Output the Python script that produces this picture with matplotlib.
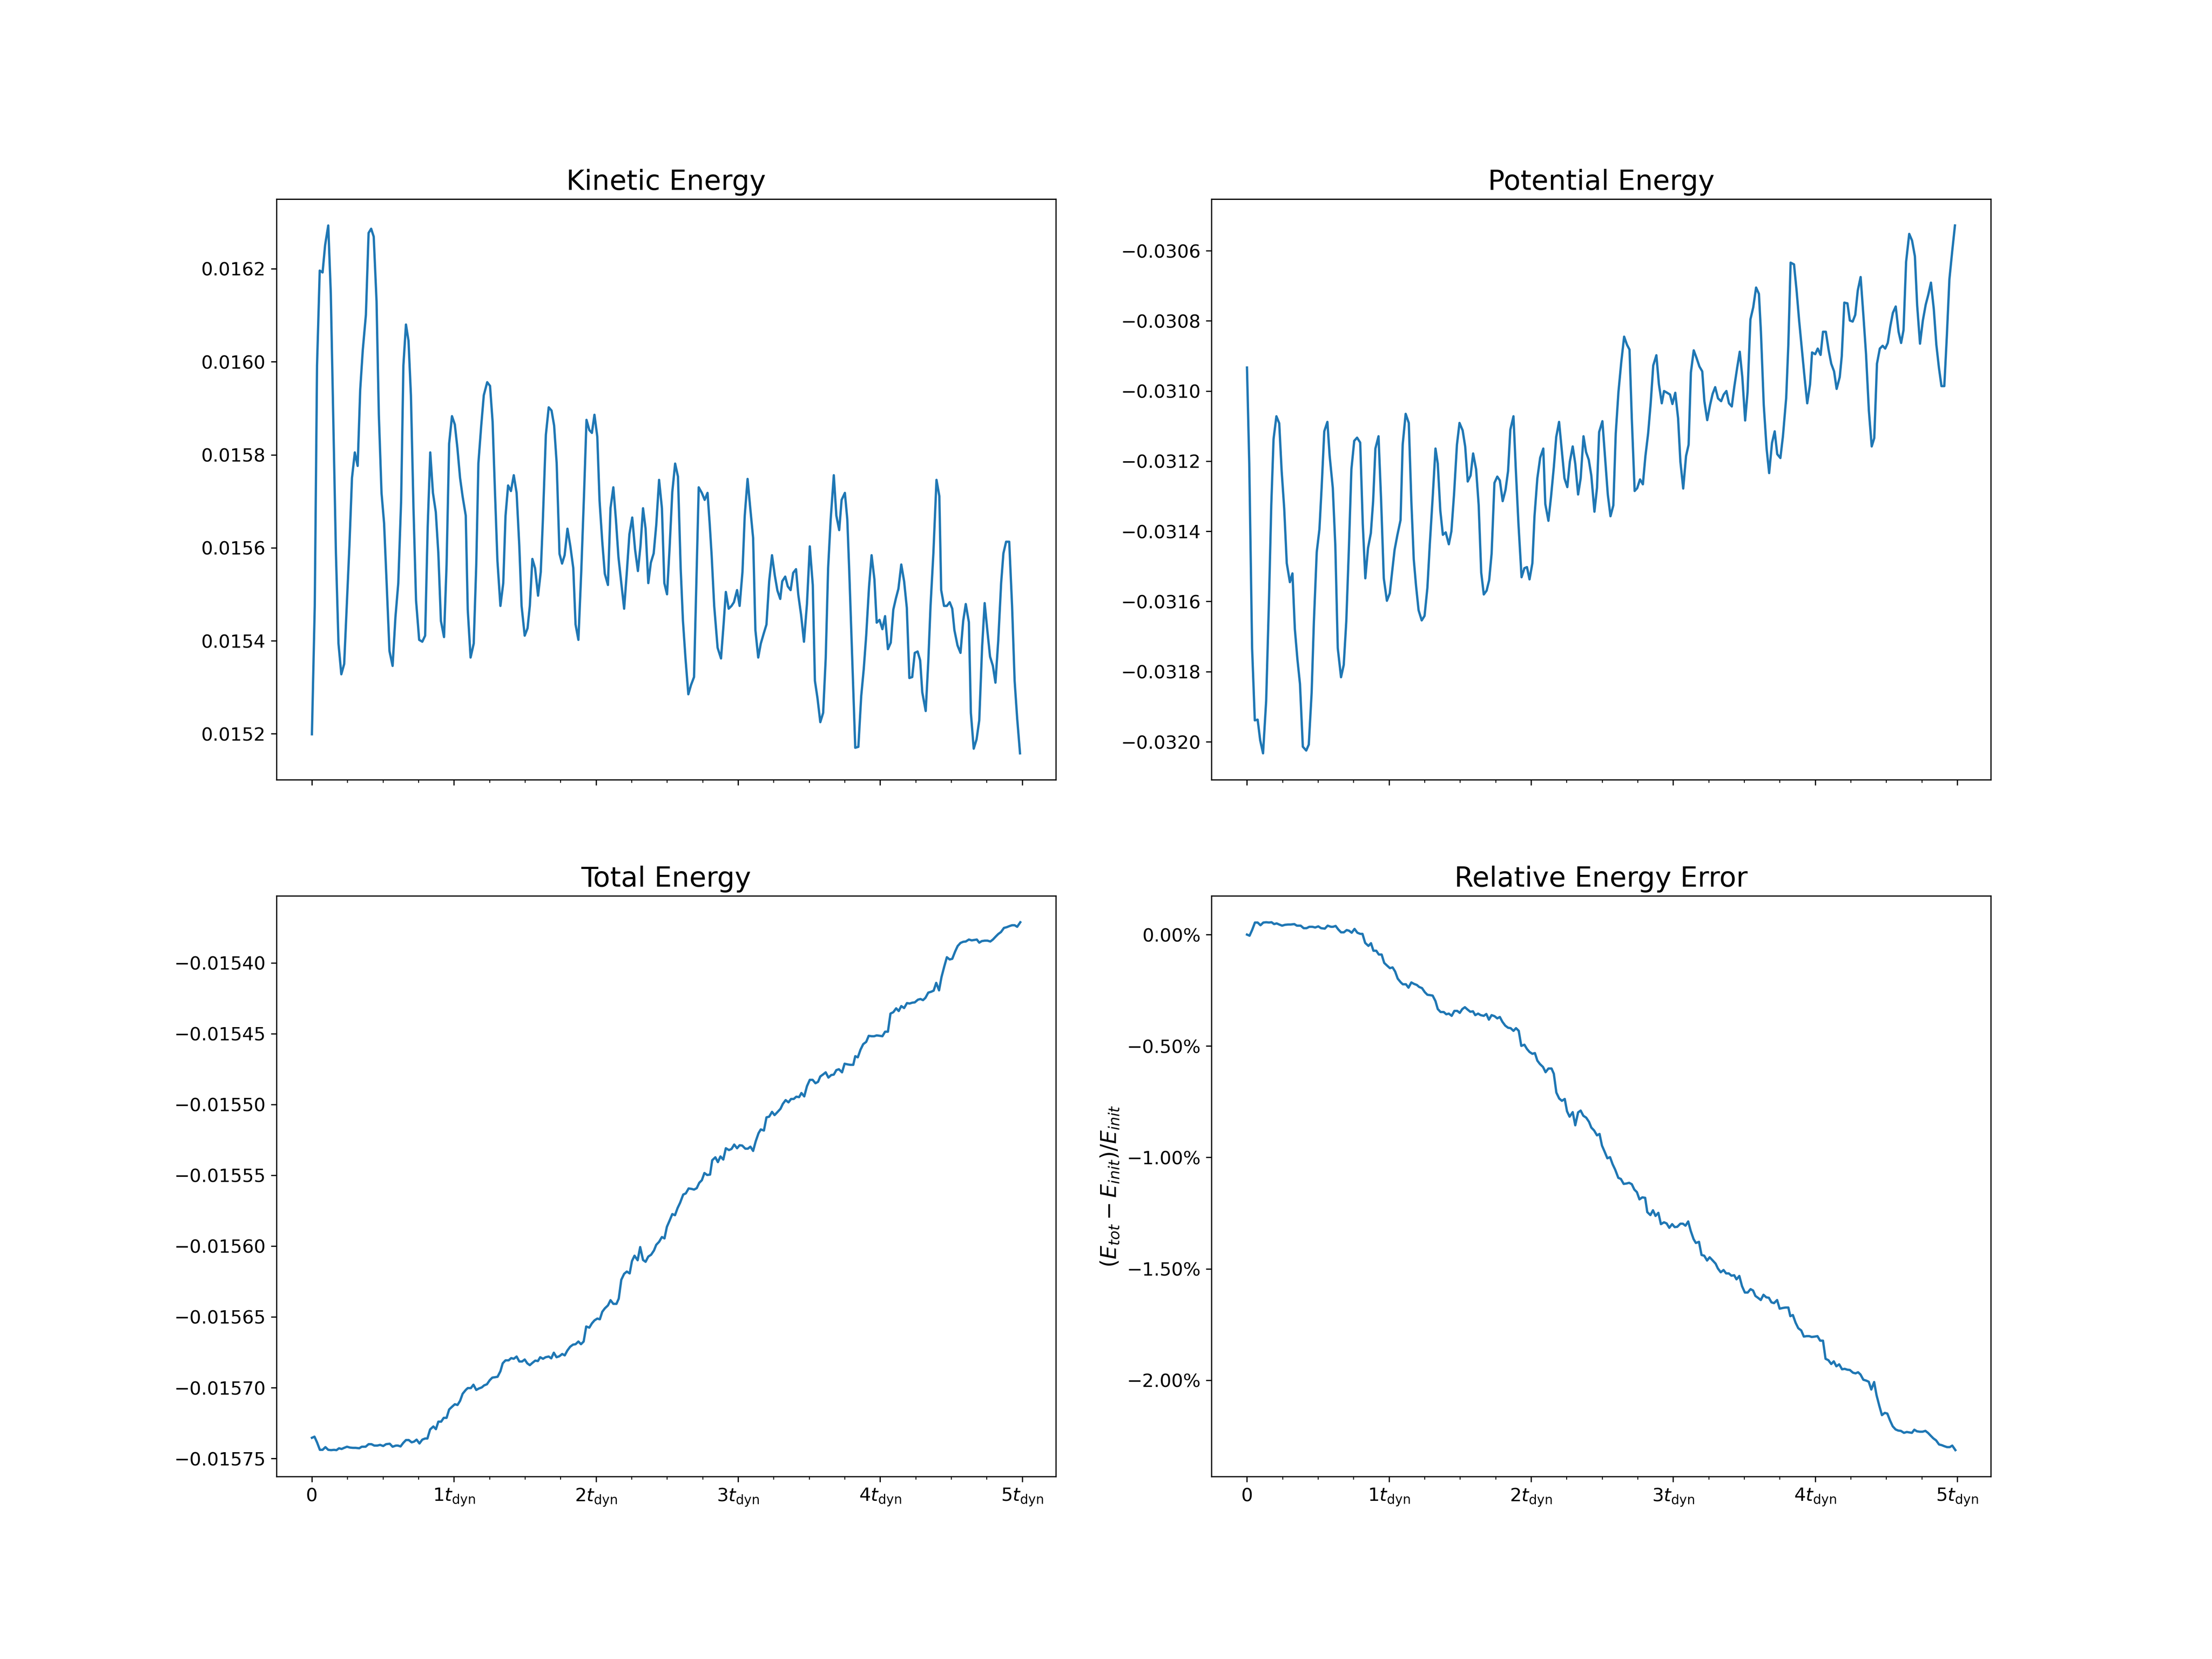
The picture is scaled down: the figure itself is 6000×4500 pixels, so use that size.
import numpy as np
import matplotlib
matplotlib.use('Agg')
import matplotlib.pyplot as plt
from matplotlib.ticker import MultipleLocator, PercentFormatter

# kinetic energy (values in units of 1e-4)
t_ke = [0.000, 0.020, 0.036, 0.055, 0.075, 0.093, 0.115, 0.133, 0.169, 0.187,
        0.207, 0.227, 0.264, 0.282, 0.302, 0.322, 0.340, 0.358, 0.380, 0.399,
        0.417, 0.435, 0.455, 0.471, 0.490, 0.508, 0.526, 0.546, 0.568, 0.588,
        0.608, 0.628, 0.644, 0.662, 0.680, 0.697, 0.715, 0.733, 0.755, 0.777,
        0.797, 0.815, 0.833, 0.852, 0.872, 0.890, 0.908, 0.930, 0.948, 0.966,
        0.986, 1.006, 1.024, 1.043, 1.061, 1.083, 1.097, 1.117, 1.139, 1.157,
        1.172, 1.192, 1.210, 1.234, 1.254, 1.272, 1.288, 1.306, 1.327, 1.347,
        1.363, 1.381, 1.401, 1.421, 1.441, 1.460, 1.476, 1.498, 1.518, 1.534,
        1.552, 1.571, 1.592, 1.611, 1.625, 1.647, 1.667, 1.687, 1.705, 1.723,
        1.743, 1.761, 1.779, 1.799, 1.819, 1.840, 1.856, 1.876, 1.896, 1.916,
        1.933, 1.953, 1.971, 1.989, 2.009, 2.025, 2.044, 2.062, 2.084, 2.102,
        2.122, 2.140, 2.158, 2.178, 2.198, 2.217, 2.235, 2.255, 2.275, 2.295,
        2.313, 2.331, 2.349, 2.368, 2.386, 2.406, 2.424, 2.444, 2.464, 2.481,
        2.500, 2.518, 2.537, 2.557, 2.577, 2.596, 2.612, 2.630, 2.650, 2.669,
        2.690, 2.723, 2.745, 2.765, 2.785, 2.800, 2.814, 2.832, 2.856, 2.880,
        2.898, 2.914, 2.934, 2.954, 2.971, 2.993, 3.011, 3.031, 3.047, 3.067,
        3.086, 3.106, 3.122, 3.142, 3.160, 3.180, 3.200, 3.219, 3.239, 3.259,
        3.277, 3.297, 3.311, 3.332, 3.350, 3.370, 3.388, 3.408, 3.424, 3.444,
        3.464, 3.485, 3.505, 3.526, 3.541, 3.559, 3.579, 3.599, 3.617, 3.634,
        3.652, 3.674, 3.692, 3.712, 3.729, 3.752, 3.769, 3.783, 3.825, 3.847,
        3.867, 3.885, 3.902, 3.922, 3.940, 3.960, 3.976, 3.996, 4.016, 4.035,
        4.055, 4.075, 4.093, 4.111, 4.129, 4.149, 4.169, 4.188, 4.206, 4.226,
        4.244, 4.264, 4.282, 4.297, 4.321, 4.339, 4.355, 4.375, 4.397, 4.417,
        4.430, 4.450, 4.470, 4.490, 4.508, 4.523, 4.545, 4.566, 4.585, 4.603,
        4.625, 4.639, 4.659, 4.679, 4.698, 4.718, 4.736, 4.756, 4.774, 4.794,
        4.812, 4.832, 4.852, 4.868, 4.887, 4.909, 4.929, 4.947, 4.965, 4.985]
ke = [151.99, 154.75, 159.92, 161.96, 161.92, 162.51, 162.93, 161.46, 155.88, 153.94,
      153.28, 153.50, 156.04, 157.50, 158.05, 157.76, 159.40, 160.25, 161.01, 162.77,
      162.86, 162.69, 161.30, 158.87, 157.18, 156.53, 155.24, 153.78, 153.46, 154.51,
      155.24, 157.01, 159.92, 160.80, 160.45, 159.28, 156.85, 154.87, 154.02, 153.98,
      154.11, 156.45, 158.05, 157.18, 156.77, 155.88, 154.43, 154.08, 155.64, 158.24,
      158.83, 158.65, 158.15, 157.50, 157.10, 156.69, 154.67, 153.64, 153.94, 155.64,
      157.82, 158.63, 159.28, 159.56, 159.48, 158.71, 157.26, 155.72, 154.75, 155.24,
      156.69, 157.34, 157.22, 157.56, 157.18, 156.04, 154.75, 154.11, 154.27, 154.75,
      155.76, 155.56, 154.97, 155.48, 156.53, 158.43, 159.02, 158.95, 158.63, 157.82,
      155.87, 155.66, 155.84, 156.41, 156.04, 155.56, 154.35, 154.02, 155.48, 157.18,
      158.75, 158.53, 158.47, 158.86, 158.39, 157.01, 156.13, 155.44, 155.20, 156.85,
      157.30, 156.61, 155.80, 155.24, 154.69, 155.48, 156.29, 156.65, 155.96, 155.50,
      156.04, 156.85, 156.41, 155.24, 155.68, 155.88, 156.49, 157.46, 156.85, 155.24,
      155.00, 156.00, 157.20, 157.81, 157.53, 155.56, 154.43, 153.62, 152.85, 153.05,
      153.22, 157.30, 157.18, 157.03, 157.18, 156.53, 155.84, 154.75, 153.85, 153.62,
      154.35, 155.05, 154.69, 154.75, 154.83, 155.09, 154.75, 155.48, 156.69, 157.48,
      156.85, 156.21, 154.23, 153.64, 153.94, 154.15, 154.35, 155.28, 155.84, 155.40,
      155.08, 154.90, 155.28, 155.38, 155.17, 155.09, 155.46, 155.54, 154.99, 154.55,
      153.98, 154.79, 156.03, 155.20, 153.14, 152.77, 152.25, 152.45, 153.62, 155.56,
      156.61, 157.56, 156.69, 156.38, 157.03, 157.18, 156.61, 155.48, 151.70, 151.72,
      152.81, 153.40, 154.11, 155.16, 155.84, 155.32, 154.39, 154.45, 154.25, 154.53,
      153.82, 153.96, 154.67, 154.91, 155.12, 155.64, 155.28, 154.71, 153.20, 153.22,
      153.74, 153.77, 153.58, 152.89, 152.49, 153.54, 154.75, 155.88, 157.46, 157.11,
      155.09, 154.75, 154.75, 154.83, 154.69, 154.23, 153.90, 153.74, 154.43, 154.79,
      154.40, 152.45, 151.68, 151.88, 152.29, 153.86, 154.81, 154.19, 153.66, 153.46,
      153.10, 154.02, 155.24, 155.88, 156.13, 156.13, 154.75, 153.14, 152.33, 151.58]

# potential energy (units of 1e-4)
t_pe = [0.000, 0.016, 0.036, 0.055, 0.075, 0.093, 0.113, 0.135, 0.155, 0.171,
        0.187, 0.207, 0.227, 0.244, 0.262, 0.280, 0.302, 0.320, 0.337, 0.355,
        0.373, 0.393, 0.417, 0.435, 0.455, 0.471, 0.491, 0.510, 0.526, 0.544,
        0.566, 0.582, 0.604, 0.622, 0.639, 0.662, 0.681, 0.699, 0.717, 0.735,
        0.755, 0.775, 0.797, 0.815, 0.833, 0.852, 0.872, 0.888, 0.904, 0.926,
        0.944, 0.963, 0.985, 1.005, 1.021, 1.039, 1.059, 1.081, 1.096, 1.117,
        1.139, 1.157, 1.174, 1.190, 1.208, 1.230, 1.250, 1.270, 1.287, 1.308,
        1.327, 1.343, 1.361, 1.379, 1.399, 1.421, 1.439, 1.458, 1.478, 1.496,
        1.518, 1.536, 1.554, 1.574, 1.592, 1.613, 1.631, 1.649, 1.667, 1.687,
        1.705, 1.722, 1.742, 1.762, 1.780, 1.800, 1.820, 1.838, 1.854, 1.876,
        1.893, 1.911, 1.933, 1.953, 1.971, 1.989, 2.009, 2.024, 2.044, 2.064,
        2.086, 2.100, 2.122, 2.140, 2.160, 2.177, 2.197, 2.215, 2.235, 2.255,
        2.273, 2.293, 2.311, 2.331, 2.349, 2.369, 2.387, 2.406, 2.424, 2.446,
        2.464, 2.479, 2.502, 2.520, 2.540, 2.559, 2.579, 2.596, 2.615, 2.635,
        2.655, 2.675, 2.693, 2.709, 2.729, 2.747, 2.767, 2.787, 2.805, 2.824,
        2.842, 2.860, 2.882, 2.900, 2.920, 2.936, 2.958, 2.978, 2.995, 3.015,
        3.035, 3.051, 3.071, 3.091, 3.109, 3.125, 3.145, 3.165, 3.185, 3.205,
        3.220, 3.240, 3.260, 3.278, 3.296, 3.316, 3.338, 3.356, 3.375, 3.393,
        3.413, 3.431, 3.451, 3.469, 3.487, 3.507, 3.524, 3.544, 3.564, 3.584,
        3.604, 3.618, 3.638, 3.658, 3.676, 3.696, 3.715, 3.733, 3.755, 3.773,
        3.796, 3.811, 3.827, 3.851, 3.869, 3.887, 3.907, 3.925, 3.944, 3.964,
        3.978, 4.000, 4.018, 4.038, 4.055, 4.075, 4.095, 4.113, 4.133, 4.151,
        4.173, 4.187, 4.205, 4.227, 4.244, 4.264, 4.282, 4.300, 4.320, 4.340,
        4.358, 4.378, 4.398, 4.416, 4.435, 4.455, 4.475, 4.493, 4.511, 4.529,
        4.547, 4.567, 4.587, 4.605, 4.622, 4.640, 4.662, 4.682, 4.702, 4.718,
        4.738, 4.758, 4.778, 4.796, 4.815, 4.835, 4.853, 4.871, 4.889, 4.909,
        4.927, 4.945, 4.965, 4.984]
pe = [-309.33, -312.07, -317.33, -319.39, -319.37, -319.96, -320.33, -318.83, -315.93, -313.25,
      -311.37, -310.72, -310.92, -312.28, -313.35, -314.91, -315.45, -315.20, -316.79, -317.65,
      -318.35, -320.14, -320.25, -320.08, -318.61, -316.57, -314.59, -313.94, -312.71, -311.15,
      -310.88, -311.85, -312.76, -314.43, -317.33, -318.16, -317.81, -316.57, -314.53, -312.23,
      -311.42, -311.33, -311.47, -313.78, -315.34, -314.48, -314.05, -313.14, -311.64, -311.29,
      -313.09, -315.34, -315.98, -315.77, -315.18, -314.53, -314.10, -313.68, -311.53, -310.65,
      -310.91, -313.14, -314.80, -315.55, -316.25, -316.54, -316.41, -315.61, -314.37, -312.98,
      -311.64, -312.07, -313.41, -314.10, -314.03, -314.37, -314.00, -312.92, -311.53, -310.91,
      -311.12, -311.58, -312.58, -312.41, -311.78, -312.23, -313.25, -315.18, -315.80, -315.69,
      -315.39, -314.64, -312.62, -312.44, -312.55, -313.14, -312.82, -312.28, -311.10, -310.72,
      -312.28, -313.78, -315.31, -315.05, -315.02, -315.37, -314.91, -313.57, -312.49, -311.90,
      -311.64, -313.22, -313.70, -313.03, -312.17, -311.31, -310.88, -311.64, -312.49, -312.74,
      -312.01, -311.58, -312.07, -312.95, -312.49, -311.29, -311.74, -311.96, -312.41, -313.44,
      -312.76, -311.17, -310.86, -311.85, -312.95, -313.57, -313.26, -311.21, -310.03, -309.17,
      -308.45, -308.68, -308.82, -310.78, -312.85, -312.77, -312.52, -312.66, -311.85, -311.21,
      -310.35, -309.27, -308.98, -309.81, -310.35, -310.00, -310.05, -310.10, -310.37, -310.05,
      -310.78, -312.01, -312.78, -311.85, -311.53, -309.47, -308.84, -309.06, -309.30, -309.44,
      -310.29, -310.83, -310.40, -310.08, -309.89, -310.21, -310.29, -310.10, -310.00, -310.35,
      -310.44, -309.87, -309.33, -308.88, -309.60, -310.84, -310.03, -307.96, -307.61, -307.05,
      -307.23, -308.31, -310.40, -311.64, -312.34, -311.48, -311.15, -311.80, -311.91, -311.29,
      -310.19, -308.68, -306.34, -306.39, -307.13, -307.99, -308.84, -309.60, -310.35, -309.81,
      -308.90, -308.95, -308.79, -308.97, -308.31, -308.31, -308.84, -309.22, -309.44, -309.94,
      -309.60, -309.01, -307.48, -307.50, -307.99, -308.02, -307.83, -307.13, -306.75, -307.88,
      -308.95, -310.56, -311.58, -311.34, -309.22, -308.79, -308.71, -308.79, -308.63, -308.15,
      -307.77, -307.59, -308.31, -308.63, -308.26, -306.32, -305.52, -305.71, -306.16, -307.56,
      -308.65, -307.99, -307.54, -307.26, -306.91, -307.66, -308.68, -309.33, -309.86, -309.86,
      -308.42, -306.81, -306.00, -305.28]

# total energy (units of 1e-5)
t_tot = [0.000, 0.018, 0.036, 0.056, 0.075, 0.095, 0.115, 0.135, 0.155, 0.173,
         0.191, 0.209, 0.227, 0.247, 0.268, 0.288, 0.308, 0.333, 0.351, 0.378,
         0.399, 0.419, 0.439, 0.460, 0.480, 0.502, 0.522, 0.548, 0.568, 0.591,
         0.606, 0.624, 0.642, 0.662, 0.682, 0.702, 0.719, 0.737, 0.757, 0.777,
         0.797, 0.813, 0.832, 0.855, 0.873, 0.890, 0.910, 0.928, 0.948, 0.966,
         0.985, 1.006, 1.025, 1.043, 1.061, 1.083, 1.097, 1.119, 1.137, 1.157,
         1.175, 1.196, 1.212, 1.232, 1.252, 1.270, 1.290, 1.307, 1.327, 1.343,
         1.363, 1.385, 1.403, 1.421, 1.441, 1.460, 1.480, 1.498, 1.516, 1.534,
         1.552, 1.572, 1.591, 1.607, 1.627, 1.645, 1.667, 1.685, 1.703, 1.722,
         1.742, 1.762, 1.780, 1.798, 1.818, 1.838, 1.856, 1.876, 1.894, 1.913,
         1.931, 1.953, 1.971, 1.989, 2.009, 2.027, 2.044, 2.062, 2.084, 2.102,
         2.122, 2.144, 2.160, 2.178, 2.198, 2.217, 2.237, 2.253, 2.271, 2.293,
         2.311, 2.331, 2.349, 2.368, 2.388, 2.408, 2.424, 2.444, 2.464, 2.482,
         2.499, 2.518, 2.537, 2.556, 2.574, 2.592, 2.614, 2.632, 2.652, 2.672,
         2.690, 2.709, 2.727, 2.745, 2.763, 2.783, 2.803, 2.818, 2.840, 2.858,
         2.876, 2.896, 2.914, 2.936, 2.954, 2.973, 2.993, 3.011, 3.029, 3.051,
         3.069, 3.087, 3.106, 3.124, 3.144, 3.160, 3.182, 3.200, 3.219, 3.239,
         3.257, 3.277, 3.299, 3.315, 3.335, 3.355, 3.373, 3.392, 3.410, 3.430,
         3.446, 3.466, 3.485, 3.505, 3.525, 3.545, 3.563, 3.579, 3.601, 3.617,
         3.636, 3.656, 3.674, 3.692, 3.710, 3.732, 3.750, 3.772, 3.791, 3.811,
         3.825, 3.843, 3.862, 3.881, 3.902, 3.920, 3.940, 3.958, 3.976, 3.998,
         4.016, 4.035, 4.055, 4.073, 4.093, 4.113, 4.131, 4.149, 4.169, 4.189,
         4.208, 4.226, 4.244, 4.266, 4.284, 4.302, 4.319, 4.339, 4.359, 4.377,
         4.395, 4.415, 4.432, 4.452, 4.470, 4.490, 4.508, 4.528, 4.546, 4.566,
         4.585, 4.603, 4.625, 4.645, 4.663, 4.681, 4.698, 4.716, 4.736, 4.756,
         4.776, 4.794, 4.814, 4.832, 4.851, 4.872, 4.891, 4.911, 4.929, 4.947,
         4.965, 4.987]
tot = [-1573.54, -1573.46, -1573.86, -1574.39, -1574.39, -1574.20, -1574.39, -1574.41, -1574.39, -1574.41,
       -1574.28, -1574.33, -1574.25, -1574.17, -1574.23, -1574.25, -1574.25, -1574.28, -1574.17, -1574.17,
       -1573.99, -1573.99, -1574.09, -1574.09, -1574.04, -1574.12, -1573.99, -1573.96, -1574.17, -1574.09,
       -1574.09, -1574.15, -1573.91, -1573.70, -1573.70, -1573.86, -1573.81, -1573.67, -1573.94, -1573.67,
       -1573.59, -1573.59, -1572.95, -1572.74, -1572.93, -1572.40, -1572.40, -1572.13, -1572.13, -1571.54,
       -1571.36, -1571.17, -1571.22, -1570.93, -1570.43, -1570.16, -1570.03, -1570.03, -1569.79, -1570.16,
       -1570.06, -1569.98, -1569.84, -1569.76, -1569.47, -1569.29, -1569.26, -1569.23, -1568.84, -1568.28,
       -1568.07, -1568.07, -1567.91, -1567.96, -1567.80, -1568.15, -1568.15, -1568.01, -1568.28, -1568.41,
       -1568.25, -1568.09, -1568.12, -1567.85, -1567.96, -1567.85, -1567.80, -1567.93, -1567.53, -1567.85,
       -1567.78, -1567.62, -1567.72, -1567.38, -1567.11, -1566.96, -1566.93, -1566.74, -1566.93, -1566.74,
       -1565.68, -1565.76, -1565.46, -1565.25, -1565.12, -1565.17, -1564.64, -1564.40, -1564.19, -1563.82,
       -1564.08, -1564.08, -1563.71, -1562.38, -1561.96, -1561.80, -1561.93, -1561.06, -1560.68, -1561.00,
       -1560.07, -1560.98, -1561.11, -1560.74, -1560.61, -1560.31, -1559.91, -1559.70, -1559.36, -1559.46,
       -1558.64, -1558.20, -1557.74, -1557.82, -1557.32, -1556.94, -1556.36, -1556.28, -1555.93, -1555.96,
       -1556.01, -1555.91, -1555.53, -1555.35, -1554.84, -1554.98, -1554.95, -1553.94, -1553.73, -1554.07,
       -1553.67, -1553.89, -1553.09, -1553.22, -1553.14, -1552.83, -1553.09, -1552.88, -1552.90, -1553.12,
       -1553.12, -1552.98, -1553.28, -1552.61, -1552.03, -1551.76, -1551.84, -1550.91, -1550.86, -1550.52,
       -1550.75, -1550.54, -1550.30, -1549.96, -1549.69, -1549.85, -1549.61, -1549.61, -1549.45, -1549.48,
       -1549.19, -1549.43, -1548.71, -1548.26, -1548.26, -1548.50, -1548.40, -1548.02, -1547.86, -1547.73,
       -1548.10, -1547.92, -1547.89, -1547.57, -1547.51, -1547.73, -1547.12, -1547.17, -1547.20, -1547.20,
       -1546.59, -1546.67, -1546.13, -1545.74, -1545.58, -1545.15, -1545.18, -1545.18, -1545.12, -1545.15,
       -1545.18, -1544.86, -1544.86, -1543.58, -1543.48, -1543.21, -1543.40, -1543.05, -1543.19, -1542.84,
       -1542.87, -1542.81, -1542.79, -1542.60, -1542.55, -1542.63, -1542.47, -1542.10, -1542.04, -1541.96,
       -1541.41, -1541.94, -1541.01, -1540.24, -1539.60, -1539.76, -1539.71, -1539.20, -1538.81, -1538.59,
       -1538.51, -1538.49, -1538.35, -1538.41, -1538.38, -1538.35, -1538.57, -1538.46, -1538.43, -1538.43,
       -1538.49, -1538.35, -1538.14, -1537.96, -1537.82, -1537.53, -1537.48, -1537.40, -1537.34, -1537.34,
       -1537.45, -1537.13]

xtick_pos = [0, 1, 2, 3, 4, 5]
xtick_labels = ['0', r'$1t_{\rm dyn}$', r'$2t_{\rm dyn}$', r'$3t_{\rm dyn}$',
                r'$4t_{\rm dyn}$', r'$5t_{\rm dyn}$']

t_ke = np.array(t_ke)
ke = np.array(ke) * 1e-4
t_pe = np.array(t_pe)
pe = np.array(pe) * 1e-4
t_tot = np.array(t_tot)
tot = np.array(tot) * 1e-5
rel_err = (tot - tot[0]) / tot[0]

plt.rcParams['font.size'] = 12

fig, axes = plt.subplots(2, 2, figsize=(20, 15), sharex=True)

axes[0, 0].plot(t_ke, ke)
axes[0, 0].set_title('Kinetic Energy', fontsize=18)

axes[0, 1].plot(t_pe, pe)
axes[0, 1].set_title('Potential Energy', fontsize=18)

axes[1, 0].plot(t_tot, tot)
axes[1, 0].set_title('Total Energy', fontsize=18)

axes[1, 1].plot(t_tot, rel_err)
axes[1, 1].set_title('Relative Energy Error', fontsize=18)
axes[1, 1].set_ylabel(r'$(E_{tot} - E_{init})/E_{init}$', fontsize=14)
axes[1, 1].yaxis.set_major_formatter(PercentFormatter(xmax=1, decimals=2))

for ax in axes.flat:
    ax.set_xticks(xtick_pos)
    ax.set_xticklabels(xtick_labels)
    ax.xaxis.set_minor_locator(MultipleLocator(0.25))

fig.savefig('out.png', dpi=300)
